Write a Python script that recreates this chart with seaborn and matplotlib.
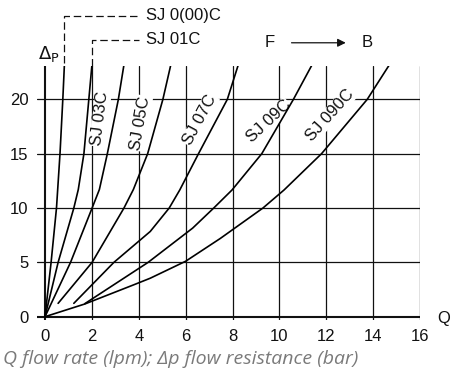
import numpy as np
import pandas as pd
import matplotlib
matplotlib.use("Agg")
import matplotlib.pyplot as plt
import seaborn as sns

# ── data (Q in lpm, Δp in bar) ────────────────────────────────────────────────
sj_000c_q = [0, 0.26, 0.49, 0.64, 0.76, 0.83]
sj_000c_p = [0, 5, 10, 15, 20, 23.3]

sj_01c_q = [0, 0.56, 1.23, 1.42, 1.66, 1.87, 2.0]
sj_01c_p = [0, 5, 10, 11.7, 15, 20, 23.1]

sj_03c_q = [0, 1.09, 2.01, 2.32, 2.66, 3.13, 3.37]
sj_03c_p = [0, 5, 10, 11.7, 15, 20, 23.2]

sj_05c_q = [0.56, 2.01, 3.37, 3.77, 4.38, 5.03, 5.37]
sj_05c_p = [1.23, 5, 10, 11.7, 15, 20, 23.2]

sj_07c_q = [1.23, 2.94, 4.49, 5.30, 5.75, 6.55, 7.78, 8.25]
sj_07c_p = [1.23, 5, 7.84, 10, 11.66, 15, 20, 23.2]

sj_09c_q = [1.70, 4.40, 6.30, 7.20, 7.98, 9.25, 10.6, 11.4]
sj_09c_p = [1.20, 5, 8.15, 10, 11.66, 15, 20, 23.2]

sj_090c_q = [0, 1.70, 3.77, 4.49, 6.0, 7.48, 9.3, 10.2, 11.8, 13.75, 14.7]
sj_090c_p = [0, 1.17, 2.92, 3.54, 5.1, 7.2, 10, 11.66, 15, 20, 23.2]

x_ticks = [0, 2, 4, 6, 8, 10, 12, 14, 16]
y_ticks = [0, 5, 10, 15, 20]

curves = {
    "SJ 0(00)C": (sj_000c_q, sj_000c_p),
    "SJ 01C": (sj_01c_q, sj_01c_p),
    "SJ 03C": (sj_03c_q, sj_03c_p),
    "SJ 05C": (sj_05c_q, sj_05c_p),
    "SJ 07C": (sj_07c_q, sj_07c_p),
    "SJ 09C": (sj_09c_q, sj_09c_p),
    "SJ 090C": (sj_090c_q, sj_090c_p),
}
frames = [pd.DataFrame({"Q": q, "dp": p, "model": name}) for name, (q, p) in curves.items()]
df = pd.concat(frames, ignore_index=True)

# ── styling ───────────────────────────────────────────────────────────────────
sns.set_theme(style="white")
plt.rcParams["font.family"] = ["Liberation Sans", "DejaVu Sans"]
INK = "#111111"
FS = 12

fig = plt.figure(figsize=(4.51, 3.81), dpi=100)
ax = fig.add_axes([0.0816, 0.1588, 0.8497, 0.669])

# grid drawn as plain lines so labels can sit on top with white boxes
for xv in x_ticks:
    ax.axvline(xv, color=INK, lw=1.5 if xv == 0 else 0.9, zorder=1)
for yv in y_ticks:
    ax.axhline(yv, color=INK, lw=1.5 if yv == 0 else 0.9, zorder=1)

sns.lineplot(data=df, x="Q", y="dp", units="model", estimator=None, sort=False,
             color="black", lw=1.2, ax=ax, zorder=3, legend=False)

ax.set_xlim(-0.35, 16)
ax.set_ylim(-0.35, 23.1)
ax.set_xticks(x_ticks)
ax.set_yticks(y_ticks)
ax.tick_params(length=0, labelsize=FS, colors=INK, pad=6)
ax.set_xlabel("")
ax.set_ylabel("")
for s in ax.spines.values():
    s.set_visible(False)

# dashed leaders to the two steepest models
ax.plot([0.83, 0.83, 4.0], [23.3, 27.7, 27.7], ls=(0, (6, 3)), color=INK, lw=0.9, clip_on=False)
ax.plot([2.0, 2.0, 4.0], [23.1, 25.5, 25.5], ls=(0, (6, 3)), color=INK, lw=0.9, clip_on=False)
ax.text(4.3, 27.7, "SJ 0(00)C", fontsize=FS, va="center", ha="left", color=INK)
ax.text(4.3, 25.5, "SJ 01C", fontsize=FS, va="center", ha="left", color=INK)

# in-plot curve labels
box = dict(facecolor="white", edgecolor="none", pad=0.5)
for txt, xx, yy, rot in [("SJ 03C", 2.36, 18.2, 83),
                         ("SJ 05C", 4.07, 17.8, 80),
                         ("SJ 07C", 6.6, 18.1, 62),
                         ("SJ 09C", 9.54, 17.95, 43),
                         ("SJ 090C", 12.17, 18.55, 48)]:
    ax.text(xx, yy, txt, fontsize=FS, rotation=rot, ha="center", va="center",
            color=INK, bbox=box, zorder=2, rotation_mode="anchor")

# axis names and flow direction
ax.text(-0.3, 24.2, r"$\Delta_{\mathrm{P}}$", fontsize=FS + 1, ha="left", va="center",
        color=INK, clip_on=False)
ax.text(17.28, -0.2, "Q", fontsize=FS, ha="right", va="center", color=INK, clip_on=False)
ax.text(9.6, 25.2, "F", fontsize=FS, ha="center", va="center", color=INK)
ax.text(13.75, 25.2, "B", fontsize=FS, ha="center", va="center", color=INK)
ax.annotate("", xy=(12.95, 25.2), xytext=(10.4, 25.2), annotation_clip=False,
            arrowprops=dict(arrowstyle="-|>", color=INK, lw=0.9, mutation_scale=12))

fig.text(0.007, 0.058, "Q flow rate (lpm); \u0394p flow resistance (bar)",
         fontsize=14, style="italic", color="#7a7a7a", ha="left", va="center",
         family=["Open Sans", "DejaVu Sans"])

fig.savefig("out.png", dpi=100)
